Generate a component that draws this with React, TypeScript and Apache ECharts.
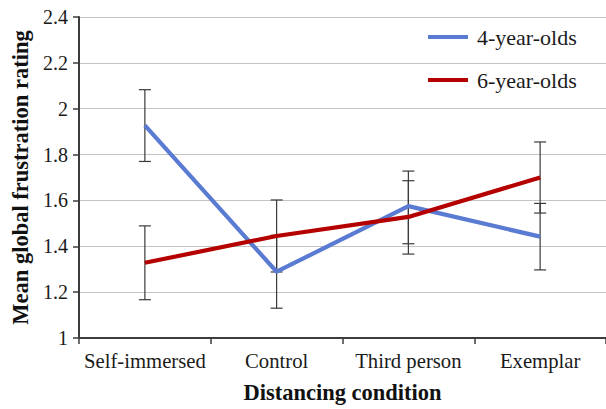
import React, { useEffect, useRef } from 'react';
import * as echarts from 'echarts';

const categories = ['Self-immersed', 'Control', 'Third person', 'Exemplar'];
const seriesNames = ['4-year-olds', '6-year-olds'];
const fourYearMeans = [1.927, 1.289, 1.575, 1.442];
const fourYearLow = [1.77, 1.13, 1.411, 1.297];
const fourYearHigh = [2.083, 1.448, 1.728, 1.587];
const sixYearMeans = [1.328, 1.445, 1.528, 1.7];
const sixYearLow = [1.167, 1.288, 1.366, 1.545];
const sixYearHigh = [1.489, 1.602, 1.686, 1.855];

const FONT = 'serif';
const BLUE = '#5a7bd2';
const RED = '#b50000';

function errorData(low: number[], high: number[]) {
  return low.map((l, i) => [i, l, high[i]]);
}

function renderError(params: any, api: any) {
  const x = api.value(0);
  const lo = api.coord([x, api.value(1)]);
  const hi = api.coord([x, api.value(2)]);
  const hw = 6;
  const style = { stroke: '#3a3a3a', lineWidth: 1.2 };
  return {
    type: 'group',
    children: [
      { type: 'line', shape: { x1: hi[0], y1: hi[1], x2: lo[0], y2: lo[1] }, style },
      { type: 'line', shape: { x1: hi[0] - hw, y1: hi[1], x2: hi[0] + hw, y2: hi[1] }, style },
      { type: 'line', shape: { x1: lo[0] - hw, y1: lo[1], x2: lo[0] + hw, y2: lo[1] }, style },
    ],
  };
}

export default function App() {
  const ref = useRef<HTMLDivElement>(null);
  useEffect(() => {
    if (!ref.current) return;
    const chart = echarts.init(ref.current, null, { renderer: 'svg' });
    chart.setOption({
      animation: false,
      backgroundColor: '#ffffff',
      textStyle: { fontFamily: FONT },
      grid: { left: 79, top: 17, right: -9, bottom: 66, containLabel: false },
      legend: {
        orient: 'vertical',
        left: 423,
        top: 21,
        itemWidth: 40,
        itemHeight: 4,
        itemGap: 21,
        icon: 'rect',
        data: seriesNames,
        textStyle: { fontFamily: FONT, fontSize: 22, color: '#1a1a1a', padding: [0, 0, 0, 4] },
      },
      xAxis: {
        type: 'category',
        data: categories,
        boundaryGap: true,
        name: 'Distancing condition',
        nameLocation: 'middle',
        nameGap: 43,
        nameTextStyle: { fontFamily: FONT, fontSize: 22.5, fontWeight: 'bold', color: '#111' },
        axisLine: { lineStyle: { color: '#3c3c3c', width: 2 } },
        axisTick: { show: true, length: 6, lineStyle: { color: '#3c3c3c', width: 1.5 } },
        axisLabel: { interval: 0, fontFamily: FONT, fontSize: 20.7, color: '#1a1a1a', margin: 12 },
        splitLine: { show: false },
      },
      yAxis: {
        type: 'value',
        min: 1,
        max: 2.4,
        interval: 0.2,
        name: 'Mean global frustration rating',
        nameLocation: 'middle',
        nameGap: 45,
        nameTextStyle: { fontFamily: FONT, fontSize: 22.5, fontWeight: 'bold', color: '#111' },
        axisLine: { show: true, lineStyle: { color: '#3c3c3c', width: 2 } },
        axisTick: { show: true, length: 6, lineStyle: { color: '#3c3c3c', width: 1.5 } },
        axisLabel: { fontFamily: FONT, fontSize: 20, color: '#1a1a1a', margin: 11 },
        splitLine: { show: true, lineStyle: { color: '#c4c4c4', width: 1.2 } },
      },
      series: [
        {
          type: 'custom',
          name: 'err4',
          renderItem: renderError,
          data: errorData(fourYearLow, fourYearHigh),
          z: 1,
          silent: true,
        },
        {
          type: 'custom',
          name: 'err6',
          renderItem: renderError,
          data: errorData(sixYearLow, sixYearHigh),
          z: 1,
          silent: true,
        },
        {
          type: 'line',
          name: seriesNames[0],
          data: fourYearMeans,
          showSymbol: false,
          symbol: 'none',
          lineStyle: { color: BLUE, width: 4.2 },
          itemStyle: { color: BLUE },
          z: 3,
        },
        {
          type: 'line',
          name: seriesNames[1],
          data: sixYearMeans,
          showSymbol: false,
          symbol: 'none',
          lineStyle: { color: RED, width: 4.2 },
          itemStyle: { color: RED },
          z: 4,
        },
      ],
    });
    return () => chart.dispose();
  }, []);
  return (
    <div
      ref={ref}
      style={{ position: 'absolute', left: 0, top: 0, width: 606, height: 409 }}
    />
  );
}
